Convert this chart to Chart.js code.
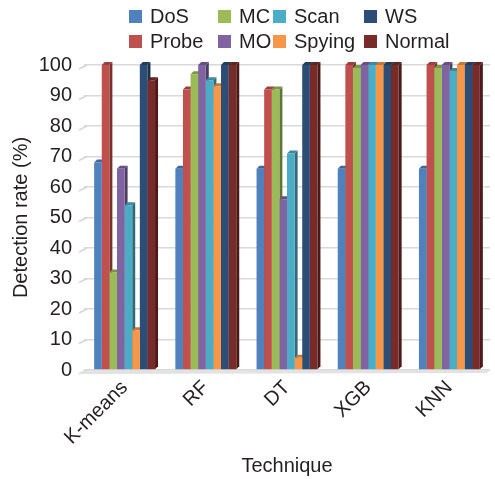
<!DOCTYPE html>
<html>
<head>
<meta charset="utf-8">
<script src="https://cdn.jsdelivr.net/npm/chart.js@4/dist/chart.umd.min.js"></script>
<style>
  html, body { margin: 0; padding: 0; background: #fff; }
  #wrap { position: relative; width: 495px; height: 479px; }
  #chart { position: absolute; left: 0; top: 0; }
  #legend {
    position: absolute; left: 129px; top: 4px;
    display: grid;
    grid-template-rows: 25px 25px;
    grid-template-columns: 89px 55px 91px auto;
    grid-auto-flow: column;
    font-family: "Liberation Sans", Arial, sans-serif;
    font-size: 20px; color: #231f20;
  }
  #legend .item { display: flex; align-items: center; white-space: nowrap; }
  #legend .box { width: 13px; height: 13px; margin-right: 8px; flex: none; }
</style>
</head>
<body>
<div id="wrap">
  <canvas id="chart" width="495" height="479"></canvas>
  <div id="legend"></div>
</div>
<script>
// Detection rate per technique and traffic class
const categories = ['K-means', 'RF', 'DT', 'XGB', 'KNN'];
const dos    = [68, 66, 66, 66, 66];
const probe  = [100, 92, 92, 100, 100];
const mc     = [32, 97, 92, 99, 99];
const mo     = [66, 100, 56, 100, 100];
const scan   = [54, 95, 71, 100, 98];
const spying = [13, 93, 4, 100, 100];
const ws     = [100, 100, 100, 100, 100];
const normal = [95, 100, 100, 100, 100];
const yTickStep = 10;
const yMax = 100;

const seriesNames  = ['DoS', 'Probe', 'MC', 'MO', 'Scan', 'Spying', 'WS', 'Normal'];
const seriesValues = [dos, probe, mc, mo, scan, spying, ws, normal];
const seriesColors = ['#4f81bd', '#c0504d', '#9bbb59', '#8064a2', '#4bacc6', '#f79646', '#2c4d75', '#772c2a'];

const FONT = '"Liberation Sans", Arial, sans-serif';
const TEXT = '#231f20';

function shade(hex, f) {
  const n = parseInt(hex.slice(1), 16);
  const ch = [(n >> 16) & 255, (n >> 8) & 255, n & 255].map(c =>
    Math.max(0, Math.min(255, Math.round(f < 1 ? c * f : c + (255 - c) * (f - 1)))));
  return 'rgb(' + ch.join(',') + ')';
}

// Side and top faces give the columns a shallow extruded look
const DEPTH = 3;
const extrude = {
  id: 'extrude',
  beforeDatasetsDraw(chart) {
    const ctx = chart.ctx;
    ctx.save();
    chart.data.datasets.forEach((ds, i) => {
      const meta = chart.getDatasetMeta(i);
      meta.data.forEach(bar => {
        const { x, y, base, width } = bar.getProps(['x', 'y', 'base', 'width'], true);
        const l = x - width / 2, r = x + width / 2;
        ctx.fillStyle = shade(ds.backgroundColor, 0.62);
        ctx.beginPath();
        ctx.moveTo(r, y); ctx.lineTo(r + DEPTH, y - DEPTH);
        ctx.lineTo(r + DEPTH, base - DEPTH); ctx.lineTo(r, base);
        ctx.closePath(); ctx.fill();
        ctx.fillStyle = shade(ds.backgroundColor, 0.8);
        ctx.beginPath();
        ctx.moveTo(l, y); ctx.lineTo(l + DEPTH, y - DEPTH);
        ctx.lineTo(r + DEPTH, y - DEPTH); ctx.lineTo(r, y);
        ctx.closePath(); ctx.fill();
      });
    });
    ctx.restore();
  }
};

// Slanted side-wall segments at the left end of each gridline, plus the floor
const wall = {
  id: 'wall',
  beforeDatasetsDraw(chart) {
    const { ctx, chartArea, scales } = chart;
    const y = scales.y;
    ctx.save();
    ctx.strokeStyle = '#d6d6d6';
    ctx.lineWidth = 1.5;
    y.ticks.forEach(t => {
      const py = y.getPixelForValue(t.value);
      ctx.beginPath();
      ctx.moveTo(chartArea.left - 5, py + 4);
      ctx.lineTo(chartArea.left + 3, py);
      ctx.stroke();
    });
    const base = y.getPixelForValue(0);
    ctx.fillStyle = '#e2e2e2';
    ctx.beginPath();
    ctx.moveTo(chartArea.left - 5, base + 4);
    ctx.lineTo(chartArea.left + 3, base);
    ctx.lineTo(chartArea.right, base);
    ctx.lineTo(chartArea.right - 3, base + 3);
    ctx.closePath();
    ctx.fill();
    ctx.restore();
  }
};

const datasets = seriesNames.map((name, i) => ({
  label: name,
  data: seriesValues[i],
  backgroundColor: seriesColors[i],
  borderWidth: 0,
  categoryPercentage: 0.75,
  barPercentage: 1.0
}));

const chart = new Chart(document.getElementById('chart'), {
  type: 'bar',
  data: { labels: categories, datasets },
  plugins: [wall, extrude],
  options: {
    responsive: false,
    animation: false,
    devicePixelRatio: 1,
    layout: { padding: { top: 65, right: 5, bottom: 0, left: 0 } },
    plugins: { legend: { display: false }, tooltip: { enabled: false } },
    scales: {
      x: {
        grid: { display: false },
        border: { display: false },
        ticks: {
          color: TEXT, font: { family: FONT, size: 20 },
          maxRotation: 45, minRotation: 45, padding: -2
        },
        title: {
          display: true, text: 'Technique', color: TEXT,
          font: { family: FONT, size: 20 }, padding: { top: 0, bottom: 1 }
        },
        afterFit(scale) { scale.height = 109; }
      },
      y: {
        min: 0, max: yMax,
        grid: { color: '#d9d9d9', lineWidth: 1.5, drawTicks: false },
        border: { display: false },
        ticks: {
          stepSize: yTickStep, color: TEXT,
          font: { family: FONT, size: 20 }, padding: 12
        },
        title: {
          display: true, text: 'Detection rate (%)', color: TEXT,
          font: { family: FONT, size: 20 }, padding: { top: 9, bottom: 0 }
        },
        afterFit(scale) { scale.width = 84; }
      }
    }
  }
});

// Legend in four columns of two rows, built from the datasets
const legend = document.getElementById('legend');
chart.data.datasets.forEach(ds => {
  const item = document.createElement('div');
  item.className = 'item';
  const box = document.createElement('span');
  box.className = 'box';
  box.style.background = ds.backgroundColor;
  const label = document.createElement('span');
  label.textContent = ds.label;
  item.appendChild(box);
  item.appendChild(label);
  legend.appendChild(item);
});
</script>
</body>
</html>
